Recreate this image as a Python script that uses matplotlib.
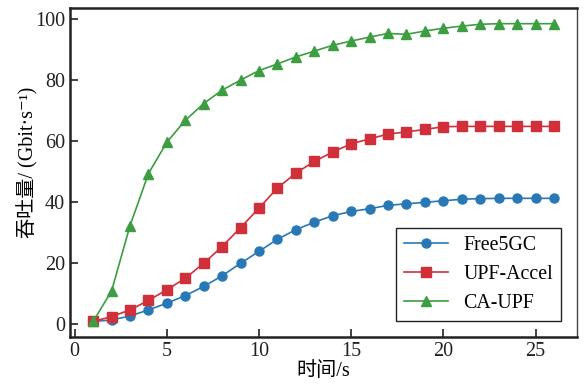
import matplotlib
matplotlib.use('Agg')
import matplotlib.pyplot as plt

plt.rcParams['font.family'] = ['Liberation Serif', 'Noto Sans CJK SC', 'DejaVu Serif']

t = list(range(1, 27))
free5gc = [0.9, 1.4, 2.7, 4.7, 6.9, 9.4, 12.4, 15.9, 20.0, 23.9, 27.9, 31.0,
           33.5, 35.6, 37.0, 37.9, 39.0, 39.5, 40.0, 40.5, 41.0, 41.2, 41.3,
           41.3, 41.3, 41.3]
upf_accel = [0.9, 2.5, 4.7, 7.8, 11.3, 15.1, 20.0, 25.5, 31.7, 38.1, 44.7, 49.6,
             53.4, 56.5, 59.2, 60.8, 62.4, 63.1, 63.9, 64.8, 64.9, 64.9, 64.9,
             64.9, 64.9, 64.9]
ca_upf = [0.9, 10.9, 32.3, 49.4, 59.7, 66.9, 72.4, 76.8, 80.1, 83.2, 85.4, 87.7,
          89.6, 91.5, 92.9, 94.2, 95.4, 95.1, 96.2, 97.1, 97.8, 98.4, 98.6,
          98.6, 98.6, 98.6]

fig = plt.figure(figsize=(5.84, 3.91), dpi=100)
ax = fig.add_axes([0.12, 0.138, 0.868, 0.842])

ax.plot(t, free5gc, '-o', color='#2878b5', lw=1.2, ms=6.5, label='Free5GC')
ax.plot(t, upf_accel, '-s', color='#d0303a', lw=1.2, ms=6.5, label='UPF-Accel')
ax.plot(t, ca_upf, '-^', color='#3c9d41', lw=1.2, ms=6.5, label='CA-UPF')

ax.set_xlim(-0.25, 27.25)
ax.set_ylim(-4.2, 103.8)
ax.set_xticks([0, 5, 10, 15, 20, 25])
ax.set_yticks([0, 20, 40, 60, 80, 100])
ax.tick_params(direction='in', length=6, width=1.2, labelsize=14.5, colors='#222222')
for s in ['left', 'bottom', 'top']:
    ax.spines[s].set_linewidth(1.8)
    ax.spines[s].set_color('#222222')
ax.spines['right'].set_linewidth(1.0)
ax.spines['right'].set_color('#444444')

ax.set_xlabel('时间/s', fontsize=14.5, labelpad=1)
ax.set_ylabel('吞吐量/ (Gbit·s⁻¹)', fontsize=14.5, labelpad=0)
ax.yaxis.set_label_coords(-0.063, 0.53)

leg = ax.legend(loc='lower right', fontsize=14.3, fancybox=False, edgecolor='#222222',
                framealpha=1, borderaxespad=0.8, handlelength=2.2)
leg.get_frame().set_linewidth(1.0)

fig.savefig('out.png', dpi=100)
